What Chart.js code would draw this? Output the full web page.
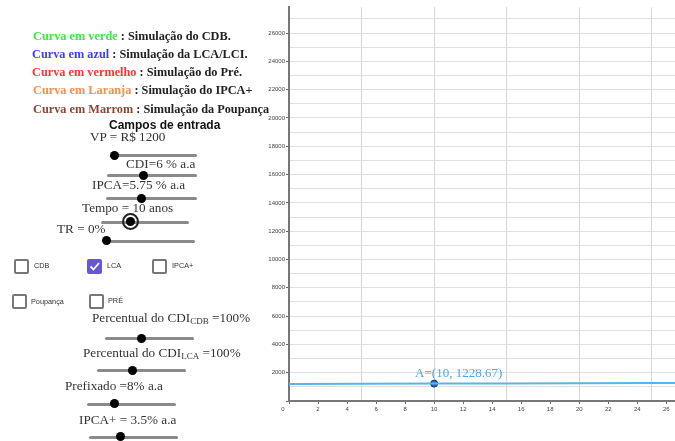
<!DOCTYPE html>
<html>
<head>
<meta charset="utf-8">
<script src="https://cdn.jsdelivr.net/npm/chart.js@4/dist/chart.umd.min.js"></script>
<style>
  html, body { margin: 0; padding: 0; background: #fff; overflow: hidden; }
  #wrap { position: relative; width: 675px; height: 441px; }
  #grafico { position: absolute; left: 0; top: 0; }
  .t { position: absolute; white-space: nowrap; }
  .leg { font: bold 12.3px "Liberation Serif", serif; line-height: 14px; color: #222; }
  .cap { font: bold 12px "Liberation Sans", Arial, sans-serif; line-height: 14px; color: #111; }
  .lbl { font: 13.2px "Liberation Serif", serif; line-height: 15px; color: #333; }
  .lbl sub { font-size: 9px; vertical-align: -2px; }
  .track { position: absolute; height: 3px; background: #8a8a8a; border-radius: 2px; }
  .knob { position: absolute; width: 9px; height: 9px; border-radius: 50%; background: #000; }
  .ring { position: absolute; width: 13px; height: 13px; border-radius: 50%; border: 2px solid #222; }
  .box { position: absolute; width: 11px; height: 11px; border: 2px solid #777; border-radius: 2px; background: #fff; }
  .box.on { background: #6657d6; border-color: #6657d6; }
  .ck { font: 7.3px "Liberation Sans", Arial, sans-serif; color: #333; line-height: 9px; }
</style>
</head>
<body>
<div id="wrap">
  <canvas id="grafico" width="675" height="441"></canvas>

  <!-- legenda -->
  <div class="t leg" style="left:33px;top:29px"><span style="color:#3fe83f">Curva em verde</span> : Simulação do CDB.</div>
  <div class="t leg" style="left:32px;top:47px"><span style="color:#3c3cff">Curva em azul</span> : Simulação da LCA/LCI.</div>
  <div class="t leg" style="left:32px;top:65px"><span style="color:#ff3434">Curva em vermelho</span> : Simulação do Pré.</div>
  <div class="t leg" style="left:33px;top:83px"><span style="color:#ff8a4c">Curva em Laranja</span> : Simulação do IPCA+</div>
  <div class="t leg" style="left:33px;top:102px"><span style="color:#8a4636">Curva em Marrom</span> : Simulação da Poupança</div>
  <div class="t cap" style="left:109px;top:118px">Campos de entrada</div>

  <!-- controles -->
  <div class="t lbl" style="left:90px;top:129px">VP = R$ 1200</div>
  <div class="track" style="left:110px;top:154px;width:87px"></div>
  <div class="knob" style="left:110px;top:151px"></div>

  <div class="t lbl" style="left:126px;top:156px">CDI=6 % a.a</div>
  <div class="track" style="left:107px;top:174px;width:90px"></div>
  <div class="knob" style="left:139px;top:171px"></div>

  <div class="t lbl" style="left:92px;top:177px">IPCA=5.75 % a.a</div>
  <div class="track" style="left:106px;top:197px;width:91px"></div>
  <div class="knob" style="left:137px;top:194px"></div>

  <div class="t lbl" style="left:82px;top:200px">Tempo = 10 anos</div>
  <div class="track" style="left:101px;top:221px;width:88px"></div>
  <div class="ring" style="left:122px;top:213px"></div>
  <div class="knob" style="left:126px;top:217px"></div>

  <div class="t lbl" style="left:57px;top:221px">TR = 0%</div>
  <div class="track" style="left:106px;top:240px;width:89px"></div>
  <div class="knob" style="left:102px;top:236px"></div>

  <div class="box" style="left:14px;top:259px"></div>
  <div class="t ck" style="left:34px;top:261px">CDB</div>
  <div class="box on" style="left:87px;top:259px"><svg width="11" height="11" style="position:absolute;left:0;top:0"><polyline points="1.5,5.5 4.5,8.5 10,2" fill="none" stroke="#fff" stroke-width="1.8"/></svg></div>
  <div class="t ck" style="left:107px;top:261px">LCA</div>
  <div class="box" style="left:152px;top:259px"></div>
  <div class="t ck" style="left:172px;top:261px">IPCA+</div>

  <div class="box" style="left:12px;top:294px"></div>
  <div class="t ck" style="left:31px;top:297px">Poupança</div>
  <div class="box" style="left:89px;top:294px"></div>
  <div class="t ck" style="left:108px;top:296px">PRÉ</div>

  <div class="t lbl" style="left:92px;top:310px">Percentual do CDI<sub>CDB</sub> =100%</div>
  <div class="track" style="left:105px;top:337px;width:89px"></div>
  <div class="knob" style="left:137px;top:334px"></div>

  <div class="t lbl" style="left:83px;top:345px">Percentual do CDI<sub>LCA</sub> =100%</div>
  <div class="track" style="left:97px;top:369px;width:89px"></div>
  <div class="knob" style="left:128px;top:366px"></div>

  <div class="t lbl" style="left:65px;top:378px">Prefixado =8% a.a</div>
  <div class="track" style="left:87px;top:403px;width:89px"></div>
  <div class="knob" style="left:110px;top:399px"></div>

  <div class="t lbl" style="left:79px;top:412px">IPCA+ = 3.5% a.a</div>
  <div class="track" style="left:89px;top:436px;width:89px"></div>
  <div class="knob" style="left:116px;top:432px"></div>
</div>

<script>
// anos (eixo x) e valor da LCA/LCI
const anos = [0, 5, 10, 15, 20, 25, 26.6];
const valoresLCA = [1200, 1214.2, 1228.67, 1243.2, 1257.9, 1272.8, 1277.6];

// ponto A
const pontoA = { x: 10, y: 1228.67 };
const rotuloA = 'A=(10, 1228.67)';

// limites dos eixos
const eixoX = { min: 0, max: 26.6, passo: 1, rotulo: 2, grade: 5 };
const eixoY = { min: 0, max: 27840, passo: 1000, rotulo: 2000 };

const multiplo = (v, m) => Math.abs(v / m - Math.round(v / m)) < 1e-6;

// marcas fixas a cada "passo" (o Chart.js redistribui se max não for múltiplo)
function marcas(eixo) {
  const out = [];
  for (let v = eixo.min; v <= eixo.max + 1e-9; v += eixo.passo) out.push({ value: v });
  return out;
}

const rotuloPonto = {
  id: 'rotuloPonto',
  afterDatasetsDraw(chart) {
    const { ctx, scales } = chart;
    const px = scales.x.getPixelForValue(pontoA.x);
    const py = scales.y.getPixelForValue(pontoA.y);
    ctx.save();
    ctx.font = '13px "Liberation Serif", serif';
    ctx.fillStyle = '#4aa6ef';
    ctx.textBaseline = 'middle';
    ctx.fillText(rotuloA, px - 19, py - 10);
    // origem "0" deslocado como no GeoGebra
    ctx.font = '6px "Liberation Sans", sans-serif';
    ctx.fillStyle = '#444';
    ctx.textAlign = 'center';
    ctx.fillText('0', scales.x.getPixelForValue(0) - 6, scales.y.getPixelForValue(0) + 8);
    ctx.restore();
  }
};

new Chart(document.getElementById('grafico'), {
  type: 'line',
  data: {
    datasets: [
      {
        data: anos.map((a, i) => ({ x: a, y: valoresLCA[i] })),
        borderColor: '#5ab4e5',
        borderWidth: 2,
        pointRadius: 0,
        tension: 0
      },
      {
        data: [pontoA],
        showLine: false,
        pointRadius: 3.5,
        pointBackgroundColor: '#1b6fca',
        pointBorderColor: '#0c3461',
        pointBorderWidth: 1
      }
    ]
  },
  options: {
    responsive: false,
    animation: false,
    layout: { autoPadding: false, padding: { top: 7, left: 265, right: 0, bottom: 0 } },
    plugins: { legend: { display: false }, tooltip: { enabled: false } },
    scales: {
      x: {
        type: 'linear',
        min: eixoX.min, max: eixoX.max,
        afterBuildTicks: (s) => { s.ticks = marcas(eixoX); },
        afterFit: (s) => { s.height = 40; s.paddingLeft = 0; s.paddingRight = 0; },
        border: { color: '#777', width: 2 },
        grid: {
          color: (c) => (c.tick && multiplo(c.tick.value, eixoX.grade) && c.tick.value > 0) ? '#d6d6d6' : 'transparent',
          tickColor: (c) => (c.tick && multiplo(c.tick.value, eixoX.rotulo)) ? '#666' : 'transparent',
          tickLength: 3,
          lineWidth: 1
        },
        ticks: {
          autoSkip: false,
          maxRotation: 0,
          padding: 2,
          color: '#444',
          font: { size: 6, family: 'Liberation Sans' },
          callback: (v) => (multiplo(v, eixoX.rotulo) && v > 0) ? String(v) : ''
        }
      },
      y: {
        type: 'linear',
        min: eixoY.min, max: eixoY.max,
        afterBuildTicks: (s) => { s.ticks = marcas(eixoY); },
        afterFit: (s) => { s.width = 24; s.paddingTop = 0; s.paddingBottom = 0; },
        border: { color: '#777', width: 2 },
        grid: {
          color: (c) => (c.tick && c.tick.value > 0) ? '#e0e0e0' : 'transparent',
          tickColor: (c) => (c.tick && multiplo(c.tick.value, eixoY.rotulo)) ? '#666' : 'transparent',
          tickLength: 3,
          lineWidth: 1
        },
        ticks: {
          autoSkip: false,
          padding: 1,
          color: '#444',
          font: { size: 6, family: 'Liberation Sans' },
          callback: (v) => (multiplo(v, eixoY.rotulo) && v > 0) ? String(v) : ''
        }
      }
    }
  },
  plugins: [rotuloPonto]
});
</script>
</body>
</html>
